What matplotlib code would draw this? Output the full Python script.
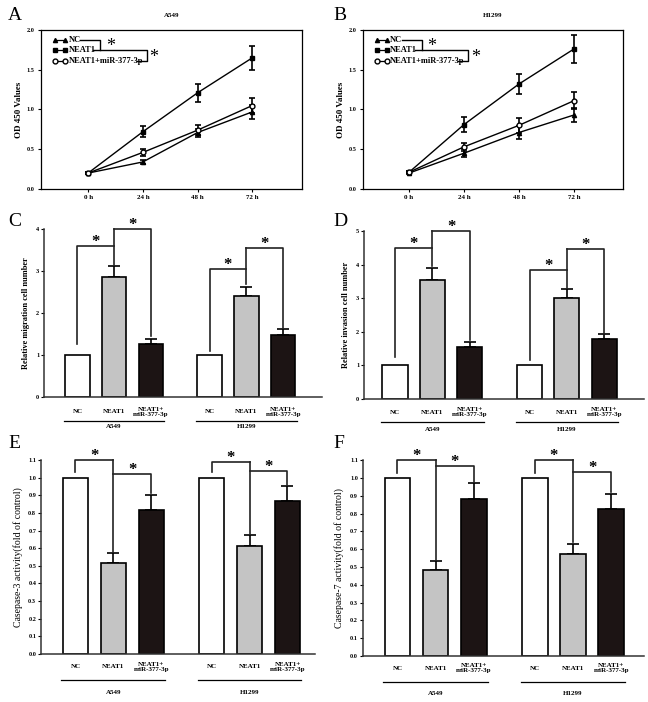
import matplotlib.pyplot as plt
import matplotlib.transforms as mtransforms

plt.rcParams['font.family'] = ['Liberation Serif', 'DejaVu Serif']

# ---- data ----
hours = ['0 h', '24 h', '48 h', '72 h']
series_names = ['NC', 'NEAT1', 'NEAT1+miR-377-3p']

a549_od = [[0.20, 0.34, 0.71, 0.97],
           [0.20, 0.72, 1.21, 1.65],
           [0.20, 0.46, 0.74, 1.05]]
a549_od_err = [[0.01, 0.03, 0.05, 0.085],
               [0.01, 0.07, 0.11, 0.15],
               [0.01, 0.04, 0.06, 0.10]]
h1299_od = [[0.20, 0.45, 0.71, 0.93],
            [0.21, 0.81, 1.32, 1.76],
            [0.21, 0.53, 0.80, 1.11]]
h1299_od_err = [[0.01, 0.05, 0.08, 0.09],
                [0.01, 0.09, 0.125, 0.18],
                [0.01, 0.05, 0.09, 0.105]]

bar_labels = ['NC', 'NEAT1', 'NEAT1+\nmiR-377-3p']
cell_lines = ['A549', 'H1299']

migration = [1.0, 2.85, 1.25, 1.0, 2.40, 1.48]
migration_err = [0, 0.28, 0.13, 0, 0.23, 0.15]
invasion = [1.0, 3.55, 1.55, 1.0, 3.0, 1.8]
invasion_err = [0, 0.35, 0.15, 0, 0.28, 0.15]
casp3 = [1.0, 0.515, 0.815, 1.0, 0.615, 0.865]
casp3_err = [0, 0.055, 0.085, 0, 0.06, 0.085]
casp7 = [1.0, 0.485, 0.88, 1.0, 0.575, 0.825]
casp7_err = [0, 0.05, 0.09, 0, 0.055, 0.085]

# significance brackets per group: (NC start, NEAT1 start, miR start, NC-NEAT1 height, NEAT1-miR height)
migration_sig = [(1.25, 3.15, 1.45, 3.6, 4.0), (1.1, 2.7, 1.65, 3.05, 3.55)]
invasion_sig = [(1.25, 3.95, 1.75, 4.5, 5.0), (1.15, 3.3, 1.95, 3.83, 4.46)]
casp3_sig = [(1.03, 0.58, 0.91, 1.10, 1.02), (1.03, 0.68, 0.96, 1.09, 1.035)]
casp7_sig = [(1.03, 0.54, 0.98, 1.10, 1.07), (1.03, 0.64, 0.92, 1.10, 1.035)]

fig = plt.figure(figsize=(6.48, 7.02), dpi=100)


def line_panel(rect, title, vals, errs, xlim):
    ax = fig.add_axes(rect)
    x = range(len(hours))
    markers = [dict(marker='^', ms=3, mfc='black'),
               dict(marker='s', ms=3, mfc='black'),
               dict(marker='o', ms=3.5, mfc='white')]
    for v, e, m in zip(vals, errs, markers):
        ax.errorbar(x, v, yerr=e, color='black', lw=1, elinewidth=1.2,
                    capsize=2.5, capthick=1.2, mec='black', **m)
    ax.set_xlim(*xlim)
    ax.set_ylim(0, 2.0)
    ax.set_xticks(list(x))
    ax.set_xticklabels(hours, fontsize=5, fontweight='bold')
    ax.set_yticks([0, 0.5, 1.0, 1.5, 2.0])
    ax.set_yticklabels(['0.0', '0.5', '1.0', '1.5', '2.0'], fontsize=4.5, fontweight='bold')
    ax.tick_params(length=2.5, width=0.8, pad=2)
    ax.set_ylabel('OD 450 Values', fontsize=6.5, fontweight='bold', labelpad=3)
    ax.set_title(title, fontsize=5, fontweight='bold', pad=9)
    for s in ax.spines.values():
        s.set_linewidth(0.9)
    # legend drawn by hand with its brackets
    rows = [0.937, 0.874, 0.805]
    text_end = [0.15, 0.2, 0.367]
    for name, y, m in zip(series_names, rows, markers):
        ax.plot([0.054, 0.092], [y, y], color='black', lw=0.9, transform=ax.transAxes, **m)
        ax.text(0.105, y, name, fontsize=6, fontweight='bold', va='center',
                transform=ax.transAxes)
    kw = dict(color='black', lw=1, transform=ax.transAxes)
    ax.plot([text_end[0], 0.226, 0.226], [rows[0], rows[0], rows[1]], **kw)
    ax.plot([text_end[1], 0.405, 0.405, text_end[2]],
            [rows[1], rows[1], rows[2], rows[2]], **kw)
    ax.text(0.265, 0.87, '*', fontsize=13, ha='center', va='baseline', transform=ax.transAxes)
    ax.text(0.433, 0.80, '*', fontsize=13, ha='center', va='baseline', transform=ax.transAxes)
    return ax


def bar_panel(rect, vals, errs, sig, ylim, yticks, yticklabels, ylabel, xlim,
              label_off, ylabel_kw):
    ax = fig.add_axes(rect)
    pos = [0, 1, 2, 3.6, 4.6, 5.6]
    colors = ['white', '#c4c4c4', '#1c1414'] * 2
    ax.bar(pos, vals, width=0.67, color=colors, edgecolor='black', lw=1.2, zorder=2)
    ax.errorbar(pos[1:3] + pos[4:], vals[1:3] + vals[4:],
                yerr=[[0] * 4, errs[1:3] + errs[4:]], fmt='none', ecolor='black',
                elinewidth=1.2, capsize=4, capthick=1.2, zorder=1)
    ax.set_xlim(*xlim)
    ax.set_ylim(*ylim)
    ax.set_yticks(yticks)
    ax.set_yticklabels(yticklabels, fontsize=4.5, fontweight='bold')
    ax.set_xticks([])
    ax.tick_params(axis='y', length=2, width=0.8, pad=1.5)
    for s in ['top', 'right']:
        ax.spines[s].set_visible(False)
    for s in ['left', 'bottom']:
        ax.spines[s].set_linewidth(1.1)
        ax.spines[s].set_color('#333333')
    ax.set_ylabel(ylabel, **ylabel_kw)

    # brackets and stars
    for g, (s_nc, s_ne, s_mi, h1, h2) in enumerate(sig):
        x0, x1, x2 = pos[3 * g:3 * g + 3]
        kw = dict(color='#222222', lw=1.2, clip_on=False, zorder=3)
        ax.plot([x0, x0, x1], [s_nc, h1, h1], **kw)
        ax.plot([x1, x1], [s_ne, max(h1, h2)], **kw)
        ax.plot([x1, x2, x2], [h2, h2, s_mi], **kw)
        ax.text((x0 + x1) / 2, h1, '*', fontsize=12, fontweight='bold', ha='center',
                va='baseline', clip_on=False)
        ax.text((x1 + x2) / 2, h2, '*', fontsize=12, fontweight='bold', ha='center',
                va='baseline', clip_on=False)

    # category labels, underline and cell line names
    blend = mtransforms.blended_transform_factory(ax.transData, ax.transAxes)
    lab_px, line_px, grp_px = label_off
    t_lab = mtransforms.offset_copy(blend, fig=fig, y=-lab_px * 0.72, units='points')
    t_line = mtransforms.offset_copy(blend, fig=fig, y=-line_px * 0.72, units='points')
    t_grp = mtransforms.offset_copy(blend, fig=fig, y=-grp_px * 0.72, units='points')
    for i, p in enumerate(pos):
        ax.text(p, 0, bar_labels[i % 3], transform=t_lab, fontsize=5,
                fontweight='bold', ha='center', va='center', linespacing=1.0)
    for g, name in enumerate(cell_lines):
        a, b = pos[3 * g] - 0.37, pos[3 * g + 2] + 0.37
        ax.plot([a, b], [0, 0], color='black', lw=0.9, transform=t_line, clip_on=False)
        ax.text((a + b) / 2, 0, name, transform=t_grp, fontsize=5,
                fontweight='bold', ha='center', va='center')
    return ax


line_panel([0.0633, 0.7308, 0.403, 0.2265], 'A549', a549_od, a549_od_err, (-0.86, 3.91))
line_panel([0.560, 0.7308, 0.401, 0.2265], 'H1299', h1299_od, h1299_od_err, (-0.84, 3.89))

lab_bold = dict(fontsize=6, fontweight='bold', labelpad=4)
lab_reg = dict(fontsize=7, labelpad=4)
bar_panel([0.0679, 0.4345, 0.429, 0.2393], migration, migration_err, migration_sig,
          (0, 4), [0, 1, 2, 3, 4], ['0', '1', '2', '3', '4'],
          'Relative migration cell number', (-0.91, 6.66), (15, 24, 30), lab_bold)
bar_panel([0.5617, 0.4316, 0.432, 0.2393], invasion, invasion_err, invasion_sig,
          (0, 5), [0, 1, 2, 3, 4, 5], ['0', '1', '2', '3', '4', '5'],
          'Relative invasion cell number', (-0.83, 6.66), (13, 23, 30), lab_bold)
ticks11 = [i / 10 for i in range(12)]
ticklabels11 = ['%.1f' % t for t in ticks11]
bar_panel([0.0633, 0.0684, 0.423, 0.2764], casp3, casp3_err, casp3_sig,
          (0, 1.1), ticks11, ticklabels11,
          'Casepase-3 activity(fold of control)', (-0.91, 6.33), (13, 26, 39), lab_reg)
bar_panel([0.560, 0.0655, 0.434, 0.279], casp7, casp7_err, casp7_sig,
          (0, 1.1), ticks11, ticklabels11,
          'Casepase-7 activity(fold of control)', (-0.905, 6.46), (12, 26, 37), lab_reg)

for letter, x, y in [('A', 8, 15), ('B', 333, 15), ('C', 8, 222),
                     ('D', 333, 222), ('E', 8, 444), ('F', 333, 444)]:
    fig.text(x / 648, 1 - y / 702, letter, fontsize=14, ha='left', va='center')

fig.savefig('out.png', dpi=100)
